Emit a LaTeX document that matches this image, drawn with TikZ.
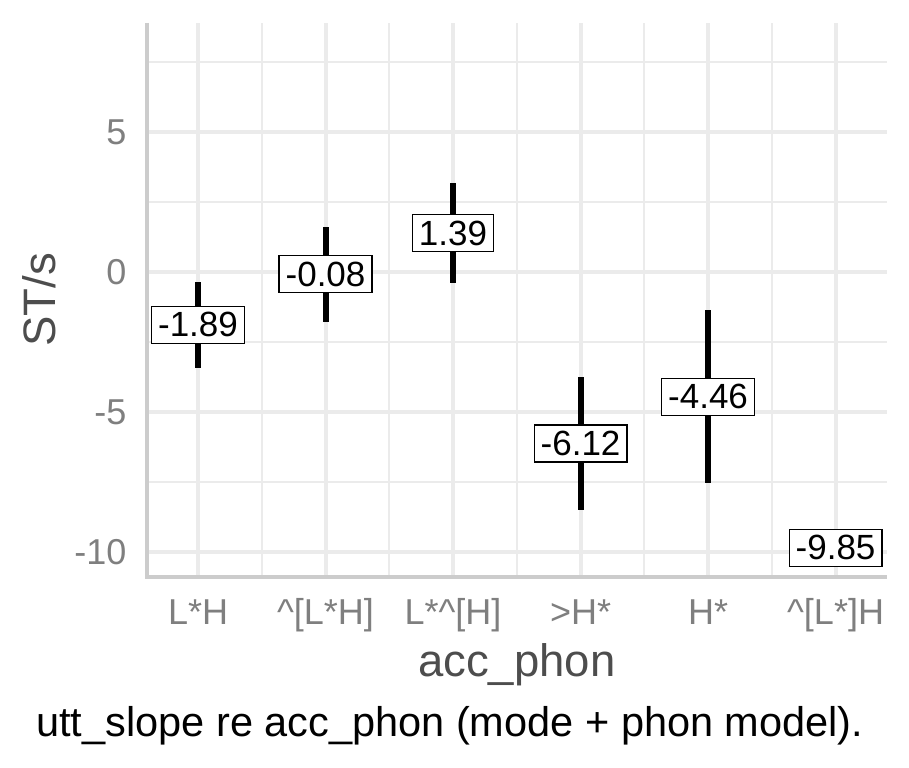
\documentclass[tikz,border=0pt]{standalone}
\usepackage{fontspec}
\setmainfont{Liberation Sans}
\usepackage{tikz}

\definecolor{gridgrey}{HTML}{EBEBEB}
\definecolor{axisgrey}{HTML}{CCCCCC}
\definecolor{ticktext}{HTML}{7F7F7F}
\definecolor{titletext}{HTML}{4D4D4D}

\tikzset{
	majorgrid/.style={draw=gridgrey, line width=4pt},
	minorgrid/.style={draw=gridgrey, line width=2.2pt},
	axisline/.style={draw=axisgrey, line width=4pt},
	errbar/.style={draw=black, line width=6pt},
	estlabel/.style={draw=black, line width=1.3pt, fill=white, inner xsep=6.5pt, inner ysep=0pt,
		minimum height=37pt, font=\fontsize{35pt}{40pt}\selectfont},
	ticklabel/.style={text=ticktext, font=\fontsize{36pt}{40pt}\selectfont},
	axistitle/.style={text=titletext, font=\fontsize{45.5pt}{50pt}\selectfont}
}

\begin{document}
\begin{tikzpicture}[x=127.5pt, y=28pt]

	\useasboundingbox (-0.553, -17.679) rectangle (6.576, 9.714);

	% grid
	\foreach \gy in {-7.5, -2.5, 2.5, 7.5}
		\draw[minorgrid] (0.6, \gy) -- (6.4, \gy);
	\foreach \gx in {1.5, 2.5, 3.5, 4.5, 5.5}
		\draw[minorgrid] (\gx, -10.9) -- (\gx, 8.9);
	\foreach \gy in {-10, -5, 0, 5}
		\draw[majorgrid] (0.6, \gy) -- (6.4, \gy);
	\foreach \gx in {1, ..., 6}
		\draw[majorgrid] (\gx, -10.9) -- (\gx, 8.9);

	% axes
	\draw[axisline] (0.6, 8.9) -- (0.6, -10.9) -- (6.4, -10.9);

	% y ticks
	\foreach \gy in {-10, -5, 0, 5}
		\node[ticklabel, anchor=east, inner sep=0pt] (ytick\gy) at (0.44, \gy) {\gy};

	% x ticks
	\node[ticklabel, anchor=base, inner sep=0pt] (lh)   at (1, -12.6) {L*H};
	\node[ticklabel, anchor=base, inner sep=0pt] (ulh)  at (2, -12.6) {\^{}[L*H]};
	\node[ticklabel, anchor=base, inner sep=0pt] (luh)  at (3, -12.6) {L*\^{}[H]};
	\node[ticklabel, anchor=base, inner sep=0pt] (dh)   at (4, -12.6) {>H*};
	\node[ticklabel, anchor=base, inner sep=0pt] (h)    at (5, -12.6) {H*};
	\node[ticklabel, anchor=base, inner sep=0pt] (ulhh) at (6, -12.6) {\^{}[L*]H};

	% error bars
	\draw[errbar] (1, -0.36) -- (1, -3.43);
	\draw[errbar] (2, 1.60) -- (2, -1.79);
	\draw[errbar] (3, 3.18) -- (3, -0.39);
	\draw[errbar] (4, -3.75) -- (4, -8.50);
	\draw[errbar] (5, -1.36) -- (5, -7.54);

	% estimates
	\node[estlabel] (est1) at (1, -1.89) {-1.89};
	\node[estlabel] (est2) at (2, -0.08) {-0.08};
	\node[estlabel] (est3) at (3, 1.39)  {1.39};
	\node[estlabel] (est4) at (4, -6.12) {-6.12};
	\node[estlabel] (est5) at (5, -4.46) {-4.46};
	\node[estlabel] (est6) at (6, -9.85) {-9.85};

	% titles
	\node[axistitle, rotate=90, inner sep=0pt] (ytitle) at (-0.243, -1) {ST/s};
	\node[axistitle, anchor=base, inner sep=0pt] (xtitle) at (3.5, -14.45) {acc\_phon};
	\node[anchor=base west, inner sep=0pt, font=\fontsize{41.5pt}{46pt}\selectfont] (caption)
		at (-0.27, -16.6) {utt\_slope re acc\_phon (mode + phon model).};

\end{tikzpicture}
\end{document}
